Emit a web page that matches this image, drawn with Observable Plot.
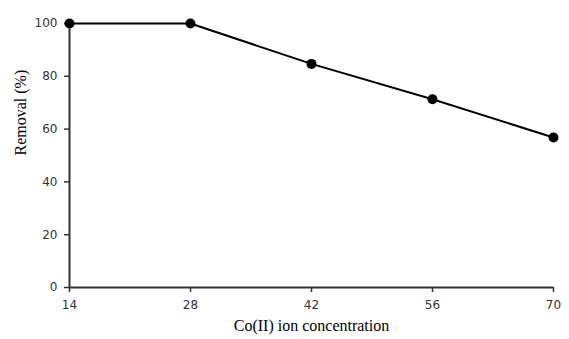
<!DOCTYPE html>
<html>
<head>
<meta charset="utf-8">
<script src="https://cdn.jsdelivr.net/npm/d3@7"></script>
<script src="https://cdn.jsdelivr.net/npm/@observablehq/plot@0.6"></script>
<style>
  body { margin: 0; background: #fff; }
  svg { display: block; }
</style>
</head>
<body>
<div id="chart"></div>
<script>
const concentrations = [14, 28, 42, 56, 70];
const removal = [100, 100, 84.7, 71.3, 56.8];
const xTicks = [14, 28, 42, 56, 70];
const yTicks = [0, 20, 40, 60, 80, 100];

const data = concentrations.map((c, i) => ({c, r: removal[i]}));

const chart = Plot.plot({
  width: 569,
  height: 339,
  marginLeft: 69,
  marginRight: 16,
  marginTop: 23,
  marginBottom: 52,
  style: {fontFamily: "DejaVu Sans", fontSize: "12px", color: "#333", background: "#fff"},
  x: {domain: [14, 70], ticks: xTicks, label: null},
  y: {domain: [0, 100], ticks: yTicks, label: null},
  marks: [
    Plot.axisX({ticks: xTicks, tickSize: 5, tickPadding: 8, stroke: "#333", strokeWidth: 1.5, fontSize: 12, fill: "#333"}),
    Plot.axisY({ticks: yTicks, tickSize: 5, tickPadding: 7, stroke: "#333", strokeWidth: 1.5, fontSize: 12, fill: "#333"}),
    Plot.ruleY([0], {stroke: "#333", strokeWidth: 2}),
    Plot.ruleX([14], {stroke: "#333", strokeWidth: 2}),
    Plot.line(data, {x: "c", y: "r", stroke: "#000", strokeWidth: 2}),
    Plot.dot(data, {x: "c", y: "r", r: 5, fill: "#000", stroke: "none"}),
    Plot.text(["Co(II) ion concentration"], {frameAnchor: "bottom", dy: 43, fontFamily: "Liberation Serif", fontSize: 16, fill: "#000"}),
    Plot.text(["Removal (%)"], {frameAnchor: "left", dx: -49, rotate: -90, fontFamily: "Liberation Serif", fontSize: 16, fill: "#000"})
  ]
});
document.getElementById("chart").appendChild(chart);
</script>
</body>
</html>
